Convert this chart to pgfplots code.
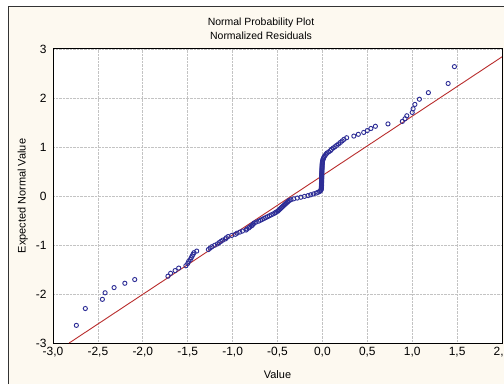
\documentclass[border=0pt]{standalone}
\usepackage{fontspec}
\setmainfont{Liberation Sans}
\usepackage{pgfplots}
\pgfplotsset{compat=1.18}
\usepackage{pgfplotstable}
\definecolor{bgcream}{RGB}{253,249,240}
\definecolor{ptblue}{RGB}{45,45,150}
\definecolor{fitred}{RGB}{185,45,45}
\definecolor{gridgray}{RGB}{195,195,195}
\pgfplotstableread{
x y
-2.74 -2.640
-2.64 -2.296
-2.45 -2.109
-2.42 -1.975
-2.32 -1.869
-2.20 -1.781
-2.09 -1.705
-1.72 -1.637
-1.69 -1.577
-1.64 -1.522
-1.60 -1.471
-1.52 -1.423
-1.50 -1.378
-1.49 -1.336
-1.47 -1.297
-1.46 -1.259
-1.45 -1.223
-1.44 -1.189
-1.43 -1.156
-1.40 -1.124
-1.27 -1.093
-1.25 -1.063
-1.23 -1.034
-1.20 -1.006
-1.17 -0.979
-1.15 -0.952
-1.13 -0.926
-1.11 -0.901
-1.08 -0.876
-1.07 -0.852
-1.05 -0.828
-1.01 -0.805
-0.97 -0.782
-0.95 -0.759
-0.92 -0.737
-0.89 -0.715
-0.85 -0.694
-0.84 -0.673
-0.82 -0.652
-0.81 -0.632
-0.79 -0.611
-0.78 -0.592
-0.77 -0.572
-0.76 -0.553
-0.74 -0.533
-0.71 -0.514
-0.69 -0.495
-0.67 -0.477
-0.65 -0.458
-0.63 -0.440
-0.61 -0.421
-0.59 -0.403
-0.57 -0.385
-0.55 -0.367
-0.53 -0.349
-0.52 -0.332
-0.50 -0.314
-0.49 -0.297
-0.48 -0.279
-0.47 -0.262
-0.46 -0.245
-0.45 -0.227
-0.44 -0.210
-0.43 -0.193
-0.42 -0.176
-0.41 -0.159
-0.40 -0.142
-0.39 -0.125
-0.38 -0.109
-0.37 -0.092
-0.35 -0.075
-0.32 -0.058
-0.28 -0.042
-0.24 -0.025
-0.20 -0.008
-0.16 0.008
-0.13 0.025
-0.10 0.042
-0.07 0.058
-0.05 0.075
-0.03 0.092
-0.02 0.109
-0.015 0.125
-0.012 0.142
-0.012 0.159
-0.011 0.176
-0.011 0.193
-0.010 0.210
-0.010 0.227
-0.010 0.245
-0.010 0.262
-0.009 0.279
-0.009 0.297
-0.009 0.314
-0.009 0.332
-0.008 0.349
-0.008 0.367
-0.008 0.385
-0.008 0.403
-0.007 0.421
-0.007 0.440
-0.007 0.458
-0.006 0.477
-0.006 0.495
-0.006 0.514
-0.005 0.533
-0.005 0.553
-0.004 0.572
-0.004 0.592
-0.003 0.611
-0.003 0.632
-0.002 0.652
-0.001 0.673
0.000 0.694
0.002 0.715
0.005 0.737
0.010 0.759
0.015 0.782
0.020 0.805
0.030 0.828
0.040 0.852
0.050 0.876
0.070 0.901
0.090 0.926
0.100 0.952
0.120 0.979
0.140 1.006
0.160 1.034
0.180 1.063
0.200 1.093
0.220 1.124
0.240 1.156
0.270 1.189
0.350 1.223
0.400 1.259
0.460 1.297
0.500 1.336
0.540 1.378
0.590 1.423
0.730 1.471
0.890 1.522
0.920 1.577
0.940 1.637
1.000 1.705
1.010 1.781
1.030 1.869
1.080 1.975
1.180 2.109
1.400 2.296
1.470 2.640
}\residuals
\begin{document}
\begin{tikzpicture}[x=1bp,y=1bp]
\useasboundingbox (0,0) rectangle (504,384);
\fill[white] (0,0) rectangle (504,384);
\fill[bgcream] (8,0) rectangle (504,377);
\draw[black!80, line width=1bp] (8,0) -- (8,377) -- (504,377);
\begin{axis}[
  at={(53bp,41bp)}, anchor=south west,
  scale only axis, width=449bp, height=294bp,
  xmin=-3, xmax=2, ymin=-3, ymax=3,
  axis background/.style={fill=white},
  xtick={-3,-2.5,-2,-1.5,-1,-0.5,0,0.5,1,1.5,2},
  ytick={-3,-2,-1,0,1,2,3},
  grid=major,
  major grid style={densely dotted, gridgray, line width=0.7bp},
  axis line style={black, line width=1bp},
  major tick length=0pt,
  /pgf/number format/assume math mode=true,
  xticklabel style={font=\fontsize{12}{14}\selectfont, yshift=-1bp, /pgf/number format/.cd, fixed, fixed zerofill, precision=1, use comma},
  yticklabel style={font=\fontsize{12}{14}\selectfont, xshift=-3bp, /pgf/number format/.cd, fixed, precision=0},
  xlabel={Value}, ylabel={Expected Normal Value},
  label style={font=\fontsize{11}{13}\selectfont},
  xlabel style={yshift=-6bp},
  ylabel style={yshift=1bp},
  clip=true,
]
\addplot[fitred, line width=0.9bp] coordinates {(-2.82,-3.0) (2.0,2.84)};
\addplot[only marks, mark=o, mark size=2.1bp, mark options={ptblue, line width=0.9bp}] table[x=x,y=y] {\residuals};
\end{axis}
\node[align=center, font=\fontsize{10.5}{14}\selectfont] at (261,355) {Normal Probability Plot\\Normalized Residuals};
\end{tikzpicture}
\end{document}
